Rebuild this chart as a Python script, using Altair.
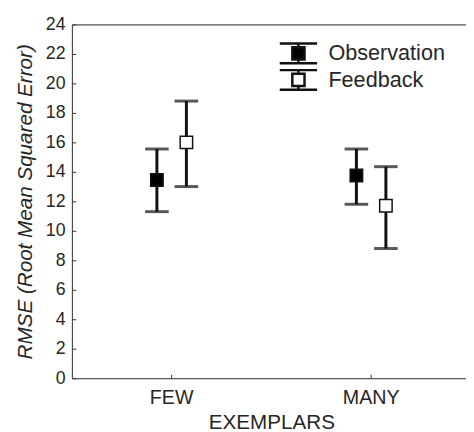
import altair as alt
import pandas as pd

categories = ["FEW", "MANY"]
groups = ["Observation", "Feedback"]
exemplars = ["FEW", "FEW", "MANY", "MANY"]
conditions = ["Observation", "Feedback", "Observation", "Feedback"]
means = [13.45, 16.0, 13.75, 11.7]
lowers = [11.3, 13.0, 11.8, 8.8]
uppers = [15.55, 18.8, 15.55, 14.35]
y_ticks = list(range(0, 25, 2))

df = pd.DataFrame({
    "exemplar": exemplars,
    "condition": conditions,
    "mean": means,
    "lower": lowers,
    "upper": uppers,
})

FONT = "Liberation Sans"
INK = "#111111"
TXT = "#262626"

x_scale = alt.Scale(domain=categories, range=[0, 406], paddingInner=0, paddingOuter=0)
off_scale = alt.Scale(type="point", domain=groups, range=[86.5, 116.5], padding=0)
y_scale = alt.Scale(domain=[0, 24], nice=False)

y_axis = alt.Axis(
    title="RMSE (Root Mean Squared Error)", values=y_ticks, grid=False,
    tickSize=alt.ExprRef(expr="-4"), tickColor="#333", domainColor="#333",
    labelFont=FONT, labelFontSize=18, labelColor=TXT, labelPadding=11,
    titleFont=FONT, titleFontSize=21, titleFontStyle="italic", titleFontWeight="normal",
    titleColor=TXT, titleX=-37, titleY=180,
)
x_axis_bottom = alt.Axis(
    title="EXEMPLARS", labelAngle=0, grid=False,
    tickSize=alt.ExprRef(expr="-4"), tickColor="#333", domainColor="#333",
    labelFont=FONT, labelFontSize=20, labelColor=TXT, labelPadding=14,
    titleFont=FONT, titleFontSize=21, titleFontWeight="normal", titleColor=TXT,
    titlePadding=4,
)
x_axis_top = alt.Axis(orient="top", title=None, labels=False, ticks=False,
                      domainColor="#333", grid=False)

base = alt.Chart(df)

bars = base.mark_rule(color=INK, strokeWidth=3).encode(
    x=alt.X("exemplar:N", scale=x_scale, sort=categories, axis=x_axis_top),
    xOffset=alt.XOffset("condition:N", scale=off_scale, sort=groups),
    y=alt.Y("lower:Q", scale=y_scale, axis=y_axis),
    y2="upper:Q",
)

caps_lo = base.mark_tick(color=INK, size=24, thickness=3).encode(
    x=alt.X("exemplar:N", scale=x_scale, sort=categories, axis=None),
    xOffset=alt.XOffset("condition:N", scale=off_scale, sort=groups),
    y=alt.Y("lower:Q", scale=y_scale, axis=y_axis),
)
caps_hi = base.mark_tick(color=INK, size=24, thickness=3).encode(
    x=alt.X("exemplar:N", scale=x_scale, sort=categories, axis=None),
    xOffset=alt.XOffset("condition:N", scale=off_scale, sort=groups),
    y=alt.Y("upper:Q", scale=y_scale, axis=y_axis),
)

legend_path = ("M-1.9,-1H1.9M0,-1V-0.62M-0.62,-0.62H0.62V0.62H-0.62Z"
               "M0,0.62V1M-1.9,1H1.9")

points = base.mark_square(size=160, stroke=INK, strokeWidth=1.5, opacity=1).encode(
    x=alt.X("exemplar:N", scale=x_scale, sort=categories, axis=x_axis_bottom),
    xOffset=alt.XOffset("condition:N", scale=off_scale, sort=groups),
    y=alt.Y("mean:Q", scale=y_scale, axis=y_axis),
    fill=alt.Fill(
        "condition:N", sort=groups,
        scale=alt.Scale(domain=groups, range=["black", "white"]),
        legend=alt.Legend(
            title=None, orient="none", legendX=219, legendY=18, padding=0,
            symbolType=legend_path, symbolSize=400, symbolStrokeColor=INK,
            symbolStrokeWidth=2.5, labelFont=FONT, labelFontSize=22,
            labelColor=TXT, labelOffset=19, rowPadding=-15,
        ),
    ),
)

chart = alt.layer(bars, caps_lo, caps_hi, points).resolve_axis(x="independent").properties(
    width=401, height=360,
    autosize=alt.AutoSizeParams(type="none"),
    padding={"left": 65, "top": 13, "right": 0, "bottom": 51},
).configure_view(stroke=None).configure(background="white")

chart.save("out.html", embed_options={"renderer": "svg", "actions": False})
